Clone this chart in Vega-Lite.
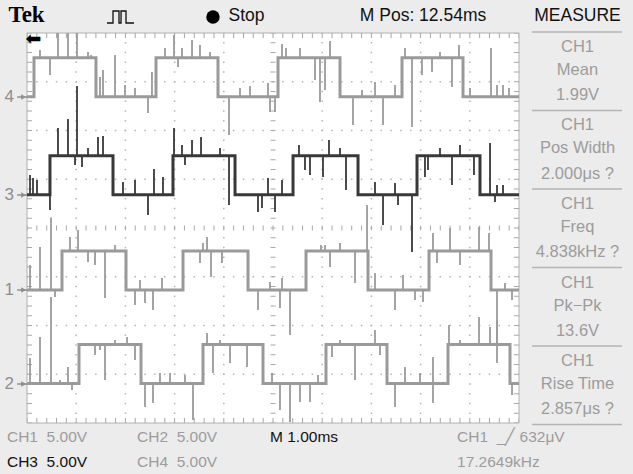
{
  "$schema": "https://vega.github.io/schema/vega-lite/v6.json",
  "width": 633,
  "height": 474,
  "autosize": {"type": "fit", "contains": "padding"},
  "padding": 0,
  "background": "#ececec",
  "config": {"view": {"stroke": null}, "text": {"font": "Liberation Sans"}},
  "datasets": {
    "ch4": [{"t":0,"v":0},{"t":0.142,"v":4},{"t":1.402,"v":0},{"t":2.622,"v":4},{"t":3.882,"v":0},{"t":5.102,"v":4},{"t":6.362,"v":0},{"t":7.622,"v":4},{"t":8.862,"v":0},{"t":10,"v":0}],
    "ch3": [{"t":0,"v":0},{"t":0.467,"v":4},{"t":1.748,"v":0},{"t":2.967,"v":4},{"t":4.228,"v":0},{"t":5.407,"v":4},{"t":6.728,"v":0},{"t":7.927,"v":4},{"t":9.207,"v":0},{"t":10,"v":0}],
    "ch1": [{"t":0,"v":0},{"t":0.711,"v":4},{"t":2.012,"v":0},{"t":3.171,"v":4},{"t":4.492,"v":0},{"t":5.671,"v":4},{"t":6.931,"v":0},{"t":8.171,"v":4},{"t":9.431,"v":0},{"t":10,"v":0}],
    "ch2": [{"t":0,"v":0},{"t":1.057,"v":4},{"t":2.317,"v":0},{"t":3.577,"v":4},{"t":4.797,"v":0},{"t":6.077,"v":4},{"t":7.317,"v":0},{"t":8.557,"v":4},{"t":9.817,"v":0},{"t":10,"v":0}],
    "ch4_spikes": [
      {"t":0.264,"level":4,"peak":4.81},{"t":0.467,"level":4,"peak":2.25},{"t":0.63,"level":4,"peak":6.55},{"t":0.833,"level":4,"peak":6.55},{"t":1.016,"level":4,"peak":6.55},{"t":1.24,"level":4,"peak":4.6},{"t":1.301,"level":4,"peak":4.3},
      {"t":1.484,"level":0,"peak":2.04},{"t":1.545,"level":0,"peak":2.76},{"t":1.789,"level":0,"peak":4.3},{"t":1.992,"level":0,"peak":1.22},{"t":2.195,"level":0,"peak":0.91},{"t":2.459,"level":0,"peak":-1.65},{"t":2.54,"level":0,"peak":2.55},
      {"t":2.805,"level":4,"peak":5.02},{"t":2.988,"level":4,"peak":6.35},{"t":3.069,"level":4,"peak":3.07},{"t":3.15,"level":4,"peak":5.0},{"t":3.354,"level":4,"peak":5.84},{"t":3.516,"level":4,"peak":5.32},{"t":3.72,"level":4,"peak":4.6},
      {"t":4.106,"level":0,"peak":-3.91},{"t":4.329,"level":0,"peak":0.91},{"t":4.533,"level":0,"peak":1.12},{"t":4.898,"level":0,"peak":1.43},{"t":4.939,"level":0,"peak":-1.55},{"t":5.041,"level":0,"peak":-1.55},
      {"t":5.183,"level":4,"peak":5.43},{"t":5.264,"level":4,"peak":5.02},{"t":5.549,"level":4,"peak":5.02},{"t":5.854,"level":4,"peak":1.73},{"t":5.955,"level":4,"peak":-0.52},{"t":6.057,"level":4,"peak":0.71},{"t":6.159,"level":4,"peak":5.74},
      {"t":6.626,"level":0,"peak":-2.88},{"t":6.809,"level":0,"peak":0.71},{"t":7.073,"level":0,"peak":1.53},{"t":7.236,"level":0,"peak":-2.88},{"t":7.48,"level":0,"peak":1.22},
      {"t":7.683,"level":4,"peak":5.02},{"t":7.825,"level":4,"peak":-3.09},{"t":8.028,"level":4,"peak":2.25},{"t":8.232,"level":4,"peak":2.55},{"t":8.394,"level":4,"peak":4.6},{"t":8.638,"level":4,"peak":1.02},{"t":8.78,"level":4,"peak":5.32},
      {"t":9.004,"level":0,"peak":0.91},{"t":9.431,"level":0,"peak":5.02},{"t":9.553,"level":0,"peak":1.22},{"t":9.675,"level":0,"peak":1.22},{"t":9.797,"level":0,"peak":0.91}
    ],
    "ch3_spikes": [
      {"t":0.061,"level":0,"peak":2.04},{"t":0.122,"level":0,"peak":1.73},{"t":0.203,"level":0,"peak":1.52},{"t":0.467,"level":0,"peak":-1.55},
      {"t":0.63,"level":4,"peak":6.86},{"t":0.833,"level":4,"peak":7.78},{"t":0.976,"level":4,"peak":3.06},{"t":1.016,"level":4,"peak":11.17},{"t":1.118,"level":4,"peak":2.86},{"t":1.24,"level":4,"peak":4.81},{"t":1.443,"level":4,"peak":5.93},{"t":1.545,"level":4,"peak":6.04},
      {"t":1.951,"level":0,"peak":1.32},{"t":2.195,"level":0,"peak":1.52},{"t":2.459,"level":0,"peak":-2.07},{"t":2.581,"level":0,"peak":2.65},{"t":2.764,"level":0,"peak":1.83},
      {"t":2.988,"level":4,"peak":6.86},{"t":3.15,"level":4,"peak":5.11},{"t":3.211,"level":4,"peak":3.06},{"t":3.354,"level":4,"peak":5.63},{"t":3.537,"level":4,"peak":5.93},{"t":3.923,"level":4,"peak":4.81},{"t":4.106,"level":4,"peak":-1.04},
      {"t":4.695,"level":0,"peak":-1.76},{"t":4.776,"level":0,"peak":-1.35},{"t":4.898,"level":0,"peak":1.73},{"t":5.041,"level":0,"peak":-1.76},{"t":5.183,"level":0,"peak":1.52},
      {"t":5.528,"level":4,"peak":5.11},{"t":5.65,"level":4,"peak":2.55},{"t":5.752,"level":4,"peak":2.04},{"t":6.016,"level":4,"peak":1.83},{"t":6.138,"level":4,"peak":5.63},{"t":6.362,"level":4,"peak":4.81},{"t":6.484,"level":4,"peak":0.5},
      {"t":7.073,"level":0,"peak":1.32},{"t":7.236,"level":0,"peak":-3.09},{"t":7.48,"level":0,"peak":1.22},{"t":7.541,"level":0,"peak":-1.04},{"t":7.825,"level":0,"peak":-5.86},
      {"t":8.089,"level":4,"peak":1.83},{"t":8.15,"level":4,"peak":2.55},{"t":8.394,"level":4,"peak":4.81},{"t":8.638,"level":4,"peak":1.01},{"t":8.801,"level":4,"peak":5.11},{"t":9.085,"level":4,"peak":2.04},
      {"t":9.411,"level":0,"peak":5.32},{"t":9.512,"level":0,"peak":-0.73},{"t":9.553,"level":0,"peak":1.01},{"t":9.675,"level":0,"peak":1.01}
    ],
    "ch1_spikes": [
      {"t":0.061,"level":0,"peak":2.55},{"t":0.264,"level":0,"peak":4.4},{"t":0.488,"level":0,"peak":7.43},{"t":0.569,"level":0,"peak":-0.73},
      {"t":0.874,"level":4,"peak":5.43},{"t":1.037,"level":4,"peak":6.14},{"t":1.24,"level":4,"peak":2.86},{"t":1.382,"level":4,"peak":2.55},{"t":1.585,"level":4,"peak":-0.83},{"t":1.789,"level":4,"peak":4.61},
      {"t":2.195,"level":0,"peak":-1.55},{"t":2.297,"level":0,"peak":1.02},{"t":2.398,"level":0,"peak":-1.34},{"t":2.561,"level":0,"peak":-2.06},{"t":2.744,"level":0,"peak":1.22},
      {"t":3.516,"level":4,"peak":2.76},{"t":3.577,"level":4,"peak":4.81},{"t":3.659,"level":4,"peak":5.43},{"t":3.74,"level":4,"peak":1.32},{"t":3.963,"level":4,"peak":2.76},
      {"t":4.695,"level":0,"peak":-2.06},{"t":4.939,"level":0,"peak":0.81},{"t":5.142,"level":0,"peak":-1.86},{"t":5.183,"level":0,"peak":1.22},{"t":5.346,"level":0,"peak":-4.63},
      {"t":5.976,"level":4,"peak":4.61},{"t":6.057,"level":4,"peak":4.61},{"t":6.159,"level":4,"peak":2.35},{"t":6.362,"level":4,"peak":4.81},{"t":6.667,"level":4,"peak":0.71},{"t":6.911,"level":4,"peak":8.71},
      {"t":7.073,"level":0,"peak":1.73},{"t":7.48,"level":0,"peak":-2.06},{"t":7.642,"level":0,"peak":1.53},{"t":7.886,"level":0,"peak":-1.04},{"t":8.049,"level":0,"peak":-1.24},
      {"t":8.252,"level":4,"peak":5.84},{"t":8.333,"level":4,"peak":2.76},{"t":8.598,"level":4,"peak":6.35},{"t":8.801,"level":4,"peak":2.55},{"t":9.187,"level":4,"peak":6.45},{"t":9.39,"level":4,"peak":5.84},
      {"t":9.553,"level":0,"peak":-7.5},{"t":9.715,"level":0,"peak":0.71},{"t":9.858,"level":0,"peak":-1.04}
    ],
    "ch2_spikes": [
      {"t":0.061,"level":0,"peak":2.62},{"t":0.264,"level":0,"peak":4.77},{"t":0.488,"level":0,"peak":8.87},{"t":0.671,"level":0,"peak":0.36},{"t":0.833,"level":0,"peak":1.69},{"t":0.915,"level":0,"peak":-0.67},
      {"t":1.382,"level":4,"peak":2.92},{"t":1.484,"level":4,"peak":3.44},{"t":1.585,"level":4,"peak":0.36},{"t":1.789,"level":4,"peak":4.46},{"t":2.033,"level":4,"peak":4.77},{"t":2.195,"level":4,"peak":2.41},
      {"t":2.398,"level":0,"peak":-2.41},{"t":2.561,"level":0,"peak":-2.0},{"t":2.703,"level":0,"peak":1.08},{"t":2.907,"level":0,"peak":1.08},{"t":3.211,"level":0,"peak":0.87},{"t":3.374,"level":0,"peak":-3.74},
      {"t":3.659,"level":4,"peak":5.18},{"t":3.78,"level":4,"peak":1.08},{"t":3.923,"level":4,"peak":4.46},{"t":4.126,"level":4,"peak":2.1},{"t":4.472,"level":4,"peak":1.69},
      {"t":4.98,"level":0,"peak":1.08},{"t":5.142,"level":0,"peak":-2.72},{"t":5.346,"level":0,"peak":-3.95},{"t":5.549,"level":0,"peak":-1.9},{"t":5.752,"level":0,"peak":-1.9},{"t":5.915,"level":0,"peak":0.87},
      {"t":6.199,"level":4,"peak":2.72},{"t":6.362,"level":4,"peak":4.46},{"t":6.667,"level":4,"peak":0.36},{"t":7.073,"level":4,"peak":5.49},{"t":7.175,"level":4,"peak":2.92},
      {"t":7.48,"level":0,"peak":-2.41},{"t":7.683,"level":0,"peak":1.69},{"t":7.988,"level":0,"peak":1.08},{"t":8.252,"level":0,"peak":-2.0},{"t":8.252,"level":0,"peak":2.72},
      {"t":8.577,"level":4,"peak":6.0},{"t":8.801,"level":4,"peak":4.46},{"t":9.187,"level":4,"peak":6.82},{"t":9.411,"level":4,"peak":5.79},{"t":9.553,"level":4,"peak":6.51},
      {"t":9.858,"level":0,"peak":-1.18}
    ],
    "measure_text": [
      {"label":"CH1","t":11.189,"div":3.713},{"label":"Mean","t":11.189,"div":3.241},{"label":"1.99V","t":11.189,"div":2.728},
      {"label":"CH1","t":11.189,"div":2.103},{"label":"Pos Width","t":11.189,"div":1.631},{"label":"2.000μs ?","t":11.189,"div":1.118},
      {"label":"CH1","t":11.189,"div":0.492},{"label":"Freq","t":11.189,"div":0.021},{"label":"4.838kHz ?","t":11.189,"div":-0.492},
      {"label":"CH1","t":11.189,"div":-1.118},{"label":"Pk−Pk","t":11.189,"div":-1.59},{"label":"13.6V","t":11.189,"div":-2.103},
      {"label":"CH1","t":11.189,"div":-2.728},{"label":"Rise Time","t":11.189,"div":-3.2},{"label":"2.857μs ?","t":11.189,"div":-3.713}
    ]
  },
  "layer": [
    {
      "layer": [
        {
          "data": {"values": [{}]},
          "mark": {"type": "rect", "fill": "#ffffff", "stroke": "#b0b0b0", "strokeWidth": 1},
          "encoding": {
            "x": {"datum": 0, "type": "quantitative", "scale": {"domain": [-0.5488, 12.317], "nice": false, "zero": false}, "axis": null},
            "x2": {"datum": 10},
            "y": {"datum": -4, "type": "quantitative", "scale": {"domain": [-5.046, 4.677], "nice": false, "zero": false}, "axis": null},
            "y2": {"datum": 4}
          }
        },
        {
          "data": {"values": [{"div": -3}, {"div": -2}, {"div": -1}, {"div": 1}, {"div": 2}, {"div": 3}]},
          "mark": {"type": "rule", "color": "#b4b4b4", "strokeWidth": 1.5, "strokeDash": [1.5, 8.34], "strokeDashOffset": 0.75},
          "encoding": {
            "x": {"datum": 0, "type": "quantitative", "scale": {"domain": [-0.5488, 12.317], "nice": false, "zero": false}, "axis": null},
            "x2": {"datum": 10},
            "y": {"field": "div", "type": "quantitative", "scale": {"domain": [-5.046, 4.677], "nice": false, "zero": false}, "axis": null}
          }
        },
        {
          "data": {"values": [{"t": 1}, {"t": 2}, {"t": 3}, {"t": 4}, {"t": 6}, {"t": 7}, {"t": 8}, {"t": 9}]},
          "mark": {"type": "rule", "color": "#b4b4b4", "strokeWidth": 1.5, "strokeDash": [1.5, 8.25], "strokeDashOffset": 0.75},
          "encoding": {
            "x": {"field": "t", "type": "quantitative", "scale": {"domain": [-0.5488, 12.317], "nice": false, "zero": false}, "axis": null},
            "y": {"datum": -4, "type": "quantitative", "scale": {"domain": [-5.046, 4.677], "nice": false, "zero": false}, "axis": null},
            "y2": {"datum": 4}
          }
        },
        {
          "data": {"values": [{"div": 3.949}, {"div": 0}, {"div": -3.949}]},
          "mark": {"type": "rule", "color": "#a8a8a8", "strokeWidth": 5, "strokeDash": [1, 8.84], "strokeDashOffset": 0.5},
          "encoding": {
            "x": {"datum": 0, "type": "quantitative", "scale": {"domain": [-0.5488, 12.317], "nice": false, "zero": false}, "axis": null},
            "x2": {"datum": 10},
            "y": {"field": "div", "type": "quantitative", "scale": {"domain": [-5.046, 4.677], "nice": false, "zero": false}, "axis": null}
          }
        },
        {
          "data": {"values": [{"t": 0.051}, {"t": 5}, {"t": 9.949}]},
          "mark": {"type": "rule", "color": "#a8a8a8", "strokeWidth": 5, "strokeDash": [1, 8.75], "strokeDashOffset": 0.5},
          "encoding": {
            "x": {"field": "t", "type": "quantitative", "scale": {"domain": [-0.5488, 12.317], "nice": false, "zero": false}, "axis": null},
            "y": {"datum": -4, "type": "quantitative", "scale": {"domain": [-5.046, 4.677], "nice": false, "zero": false}, "axis": null},
            "y2": {"datum": 4}
          }
        },
        {
          "data": {"values": [{"div": 4.021}, {"div": 2.41}, {"div": 0.8}, {"div": -0.81}, {"div": -2.421}, {"div": -4.031}]},
          "mark": {"type": "rule", "color": "#b4b4b4", "strokeWidth": 1.5},
          "encoding": {
            "x": {"datum": 10.264, "type": "quantitative", "scale": {"domain": [-0.5488, 12.317], "nice": false, "zero": false}, "axis": null},
            "x2": {"datum": 12.093},
            "y": {"field": "div", "type": "quantitative", "scale": {"domain": [-5.046, 4.677], "nice": false, "zero": false}, "axis": null}
          }
        },
        {
          "data": {"name": "measure_text"},
          "mark": {"type": "text", "align": "center", "baseline": "middle", "fontSize": 16.5, "color": "#9c9c9c"},
          "encoding": {
            "x": {"field": "t", "type": "quantitative", "scale": {"domain": [-0.5488, 12.317], "nice": false, "zero": false}, "axis": null},
            "y": {"field": "div", "type": "quantitative", "scale": {"domain": [-5.046, 4.677], "nice": false, "zero": false}, "axis": null},
            "text": {"field": "label"}
          }
        },
        {
          "data": {"values": [
            {"label": "MEASURE", "t": 11.189, "div": 4.349},
            {"label": "M Pos: 12.54ms", "t": 8.049, "div": 4.349},
            {"label": "Stop", "t": 4.461, "div": 4.349}
          ]},
          "mark": {"type": "text", "align": "center", "baseline": "middle", "fontSize": 17.5, "color": "#111111"},
          "encoding": {
            "x": {"field": "t", "type": "quantitative", "scale": {"domain": [-0.5488, 12.317], "nice": false, "zero": false}, "axis": null},
            "y": {"field": "div", "type": "quantitative", "scale": {"domain": [-5.046, 4.677], "nice": false, "zero": false}, "axis": null},
            "text": {"field": "label"}
          }
        },
        {
          "data": {"values": [{"label": "Tek", "t": -0.01, "div": 4.36}]},
          "mark": {"type": "text", "align": "center", "baseline": "middle", "fontSize": 23, "fontWeight": "bold", "font": "Liberation Serif", "color": "#000000"},
          "encoding": {
            "x": {"field": "t", "type": "quantitative", "scale": {"domain": [-0.5488, 12.317], "nice": false, "zero": false}, "axis": null},
            "y": {"field": "div", "type": "quantitative", "scale": {"domain": [-5.046, 4.677], "nice": false, "zero": false}, "axis": null},
            "text": {"field": "label"}
          }
        },
        {
          "data": {"values": [{"t": 3.78, "div": 4.328}]},
          "mark": {"type": "point", "shape": "circle", "filled": true, "size": 180, "color": "#000000", "opacity": 1},
          "encoding": {
            "x": {"field": "t", "type": "quantitative", "scale": {"domain": [-0.5488, 12.317], "nice": false, "zero": false}, "axis": null},
            "y": {"field": "div", "type": "quantitative", "scale": {"domain": [-5.046, 4.677], "nice": false, "zero": false}, "axis": null}
          }
        },
        {
          "data": {"values": [
            {"i": 0, "t": 1.626, "div": 4.205}, {"i": 1, "t": 1.748, "div": 4.205}, {"i": 2, "t": 1.748, "div": 4.451},
            {"i": 3, "t": 1.87, "div": 4.451}, {"i": 4, "t": 1.87, "div": 4.205}, {"i": 5, "t": 1.911, "div": 4.205},
            {"i": 6, "t": 1.911, "div": 4.451}, {"i": 7, "t": 2.012, "div": 4.451}, {"i": 8, "t": 2.012, "div": 4.205},
            {"i": 9, "t": 2.175, "div": 4.205}
          ]},
          "mark": {"type": "line", "color": "#111111", "strokeWidth": 1.3},
          "encoding": {
            "x": {"field": "t", "type": "quantitative", "scale": {"domain": [-0.5488, 12.317], "nice": false, "zero": false}, "axis": null},
            "y": {"field": "div", "type": "quantitative", "scale": {"domain": [-5.046, 4.677], "nice": false, "zero": false}, "axis": null},
            "order": {"field": "i"}
          }
        },
        {
          "data": {"values": [{"label": "⬅", "t": 0.13, "div": 3.867}]},
          "mark": {"type": "text", "align": "center", "baseline": "middle", "fontSize": 19, "font": "DejaVu Sans", "color": "#000000"},
          "encoding": {
            "x": {"field": "t", "type": "quantitative", "scale": {"domain": [-0.5488, 12.317], "nice": false, "zero": false}, "axis": null},
            "y": {"field": "div", "type": "quantitative", "scale": {"domain": [-5.046, 4.677], "nice": false, "zero": false}, "axis": null},
            "text": {"field": "label"}
          }
        },
        {
          "data": {"values": [
            {"label": "4", "div": 2.687}, {"label": "3", "div": 0.677}, {"label": "1", "div": -1.272}, {"label": "2", "div": -3.2}
          ]},
          "layer": [
            {
              "mark": {"type": "text", "align": "center", "baseline": "middle", "fontSize": 17, "color": "#8e8e8e"},
              "encoding": {
                "x": {"datum": -0.36, "type": "quantitative", "scale": {"domain": [-0.5488, 12.317], "nice": false, "zero": false}, "axis": null},
                "y": {"field": "div", "type": "quantitative", "scale": {"domain": [-5.046, 4.677], "nice": false, "zero": false}, "axis": null},
                "text": {"field": "label"}
              }
            },
            {
              "mark": {"type": "rule", "color": "#8e8e8e", "strokeWidth": 1.5},
              "encoding": {
                "x": {"datum": -0.2, "type": "quantitative", "scale": {"domain": [-0.5488, 12.317], "nice": false, "zero": false}, "axis": null},
                "x2": {"datum": 0},
                "y": {"field": "div", "type": "quantitative", "scale": {"domain": [-5.046, 4.677], "nice": false, "zero": false}, "axis": null}
              }
            },
            {
              "mark": {"type": "point", "shape": "triangle-right", "filled": true, "size": 30, "color": "#8e8e8e", "opacity": 1},
              "encoding": {
                "x": {"datum": -0.07, "type": "quantitative", "scale": {"domain": [-0.5488, 12.317], "nice": false, "zero": false}, "axis": null},
                "y": {"field": "div", "type": "quantitative", "scale": {"domain": [-5.046, 4.677], "nice": false, "zero": false}, "axis": null}
              }
            }
          ]
        },
        {
          "data": {"values": [
            {"label": "CH1\u00a0 5.00V", "t": -0.407, "div": -4.287},
            {"label": "CH2\u00a0 5.00V", "t": 2.236, "div": -4.287},
            {"label": "CH1 \u00a0_╱ 632μV", "t": 8.74, "div": -4.287},
            {"label": "CH4\u00a0 5.00V", "t": 2.236, "div": -4.8},
            {"label": "17.2649kHz", "t": 8.74, "div": -4.8}
          ]},
          "mark": {"type": "text", "align": "left", "baseline": "middle", "fontSize": 15.5, "color": "#9c9c9c"},
          "encoding": {
            "x": {"field": "t", "type": "quantitative", "scale": {"domain": [-0.5488, 12.317], "nice": false, "zero": false}, "axis": null},
            "y": {"field": "div", "type": "quantitative", "scale": {"domain": [-5.046, 4.677], "nice": false, "zero": false}, "axis": null},
            "text": {"field": "label"}
          }
        },
        {
          "data": {"values": [
            {"label": "M 1.00ms", "t": 4.939, "div": -4.287},
            {"label": "CH3\u00a0 5.00V", "t": -0.407, "div": -4.8}
          ]},
          "mark": {"type": "text", "align": "left", "baseline": "middle", "fontSize": 15.5, "color": "#111111"},
          "encoding": {
            "x": {"field": "t", "type": "quantitative", "scale": {"domain": [-0.5488, 12.317], "nice": false, "zero": false}, "axis": null},
            "y": {"field": "div", "type": "quantitative", "scale": {"domain": [-5.046, 4.677], "nice": false, "zero": false}, "axis": null},
            "text": {"field": "label"}
          }
        }
      ]
    },
    {
      "layer": [
        {
          "data": {"name": "ch4"},
          "mark": {"type": "line", "interpolate": "step-after", "color": "#9a9a9a", "strokeWidth": 3},
          "encoding": {
            "x": {"field": "t", "type": "quantitative", "scale": {"domain": [-0.5488, 12.317], "nice": false, "zero": false}, "axis": null},
            "y": {"field": "v", "type": "quantitative", "scale": {"domain": [-38.68, 9.935], "nice": false, "zero": false}, "axis": null}
          }
        },
        {
          "data": {"name": "ch4_spikes"},
          "mark": {"type": "rule", "color": "#9a9a9a", "strokeWidth": 1.8},
          "encoding": {
            "x": {"field": "t", "type": "quantitative", "scale": {"domain": [-0.5488, 12.317], "nice": false, "zero": false}, "axis": null},
            "y": {"field": "level", "type": "quantitative", "scale": {"domain": [-38.68, 9.935], "nice": false, "zero": false}, "axis": null},
            "y2": {"field": "peak"}
          }
        }
      ]
    },
    {
      "layer": [
        {
          "data": {"name": "ch1"},
          "mark": {"type": "line", "interpolate": "step-after", "color": "#9a9a9a", "strokeWidth": 3},
          "encoding": {
            "x": {"field": "t", "type": "quantitative", "scale": {"domain": [-0.5488, 12.317], "nice": false, "zero": false}, "axis": null},
            "y": {"field": "v", "type": "quantitative", "scale": {"domain": [-18.88, 29.735], "nice": false, "zero": false}, "axis": null}
          }
        },
        {
          "data": {"name": "ch1_spikes"},
          "mark": {"type": "rule", "color": "#9a9a9a", "strokeWidth": 1.8},
          "encoding": {
            "x": {"field": "t", "type": "quantitative", "scale": {"domain": [-0.5488, 12.317], "nice": false, "zero": false}, "axis": null},
            "y": {"field": "level", "type": "quantitative", "scale": {"domain": [-18.88, 29.735], "nice": false, "zero": false}, "axis": null},
            "y2": {"field": "peak"}
          }
        }
      ]
    },
    {
      "layer": [
        {
          "data": {"name": "ch2"},
          "mark": {"type": "line", "interpolate": "step-after", "color": "#9a9a9a", "strokeWidth": 3},
          "encoding": {
            "x": {"field": "t", "type": "quantitative", "scale": {"domain": [-0.5488, 12.317], "nice": false, "zero": false}, "axis": null},
            "y": {"field": "v", "type": "quantitative", "scale": {"domain": [-9.28, 39.335], "nice": false, "zero": false}, "axis": null}
          }
        },
        {
          "data": {"name": "ch2_spikes"},
          "mark": {"type": "rule", "color": "#9a9a9a", "strokeWidth": 1.8},
          "encoding": {
            "x": {"field": "t", "type": "quantitative", "scale": {"domain": [-0.5488, 12.317], "nice": false, "zero": false}, "axis": null},
            "y": {"field": "level", "type": "quantitative", "scale": {"domain": [-9.28, 39.335], "nice": false, "zero": false}, "axis": null},
            "y2": {"field": "peak"}
          }
        }
      ]
    },
    {
      "layer": [
        {
          "data": {"name": "ch3"},
          "mark": {"type": "line", "interpolate": "step-after", "color": "#383838", "strokeWidth": 3},
          "encoding": {
            "x": {"field": "t", "type": "quantitative", "scale": {"domain": [-0.5488, 12.317], "nice": false, "zero": false}, "axis": null},
            "y": {"field": "v", "type": "quantitative", "scale": {"domain": [-28.63, 19.985], "nice": false, "zero": false}, "axis": null}
          }
        },
        {
          "data": {"name": "ch3_spikes"},
          "mark": {"type": "rule", "color": "#383838", "strokeWidth": 1.8},
          "encoding": {
            "x": {"field": "t", "type": "quantitative", "scale": {"domain": [-0.5488, 12.317], "nice": false, "zero": false}, "axis": null},
            "y": {"field": "level", "type": "quantitative", "scale": {"domain": [-28.63, 19.985], "nice": false, "zero": false}, "axis": null},
            "y2": {"field": "peak"}
          }
        }
      ]
    }
  ],
  "resolve": {"scale": {"y": "independent"}}
}
